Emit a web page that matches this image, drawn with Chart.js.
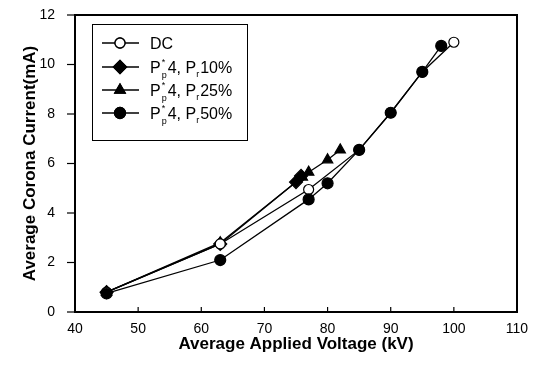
<!DOCTYPE html>
<html><head><meta charset="utf-8">
<script src="https://cdn.jsdelivr.net/npm/chart.js@4.4.0/dist/chart.umd.min.js"></script>
<style>html,body{margin:0;padding:0;background:#fff}#w{width:537px;height:367px}</style>
</head><body><div id="w"><canvas id="c"></canvas></div>
<script>
const dcV = [45, 63, 77, 85, 90, 95, 100];
const dcI = [0.8, 2.75, 4.95, 6.55, 8.05, 9.7, 10.9];
const p10V = [45, 63, 75, 75.8];
const p10I = [0.8, 2.75, 5.25, 5.5];
const p25V = [45, 63, 76, 77, 80, 82];
const p25I = [0.8, 2.8, 5.45, 5.65, 6.15, 6.55];
const p50V = [45, 63, 77, 80, 85, 90, 95, 98];
const p50I = [0.75, 2.1, 4.55, 5.2, 6.55, 8.05, 9.7, 10.75];
const xTicks = [40, 50, 60, 70, 80, 90, 100, 110];
const yTicks = [0, 2, 4, 6, 8, 10, 12];
const labels = ['DC', 'P10', 'P25', 'P50'];

const pts = (xs, ys) => xs.map((x, i) => ({x, y: ys[i]}));
const base = {borderColor:'#000', borderWidth:1.3, showLine:true, tension:0, pointBorderColor:'#000', pointBorderWidth:1.2};
const sets = [
  Object.assign({}, base, {label:labels[0], data:pts(dcV, dcI), pointStyle:'circle', pointRadius:5, pointBackgroundColor:'#fff', order:1}),
  Object.assign({}, base, {label:labels[1], data:pts(p10V, p10I), pointStyle:'rectRot', pointRadius:6.5, pointBackgroundColor:'#000', order:3}),
  Object.assign({}, base, {label:labels[2], data:pts(p25V, p25I), pointStyle:'triangle', pointRadius:6, pointBackgroundColor:'#000', order:4}),
  Object.assign({}, base, {label:labels[3], data:pts(p50V, p50I), pointStyle:'circle', pointRadius:5.5, pointBackgroundColor:'#000', order:0})
];

const FONT = '"Liberation Sans", Arial, sans-serif';

const frame = {
  id:'frame',
  afterDatasetsDraw(chart){
    const {ctx, chartArea:a, scales} = chart;
    ctx.save();
    ctx.strokeStyle = '#000';
    ctx.lineWidth = 2;
    ctx.strokeRect(a.left, a.top, a.right - a.left, a.bottom - a.top);
    ctx.lineWidth = 1.2;
    xTicks.forEach(v => {
      const x = scales.x.getPixelForValue(v);
      ctx.beginPath(); ctx.moveTo(x, a.bottom); ctx.lineTo(x, a.bottom - 5); ctx.stroke();
    });
    yTicks.forEach(v => {
      const y = scales.y.getPixelForValue(v);
      ctx.beginPath(); ctx.moveTo(a.left, y); ctx.lineTo(a.left - 8, y); ctx.stroke();
    });
    const L = 92, T = 24, R = 247, B = 140;
    ctx.fillStyle = '#fff';
    ctx.fillRect(L, T, R - L, B - T);
    ctx.lineWidth = 1;
    ctx.strokeRect(L + 0.5, T + 0.5, R - L, B - T);
    const rows = [43, 67, 90, 113];
    rows.forEach((y, i) => {
      const ds = sets[i];
      ctx.lineWidth = 1.3;
      ctx.strokeStyle = '#000';
      ctx.beginPath(); ctx.moveTo(102, y); ctx.lineTo(139, y); ctx.stroke();
      Chart.helpers.drawPoint(ctx, {pointStyle: ds.pointStyle, radius: ds.pointRadius, borderWidth: 1.2}, 120, y);
      ctx.fillStyle = ds.pointBackgroundColor;
      ctx.fill();
      ctx.stroke();
      ctx.fillStyle = '#000';
      ctx.textBaseline = 'alphabetic';
      ctx.font = '16px ' + FONT;
      const by = y + 6;
      if (i === 0) { ctx.fillText('DC', 150, by); return; }
      let x = 150;
      ctx.fillText('P', x, by); x += ctx.measureText('P').width;
      ctx.font = '9px ' + FONT;
      ctx.fillText('*', x + 1, by - 8);
      ctx.fillText('p', x + 1, by + 5);
      x += 7;
      ctx.font = '16px ' + FONT;
      const s1 = '4, P';
      ctx.fillText(s1, x, by); x += ctx.measureText(s1).width;
      ctx.font = '9px ' + FONT;
      ctx.fillText('r', x, by + 4);
      x += 4;
      ctx.font = '16px ' + FONT;
      ctx.fillText(['', '10%', '25%', '50%'][i], x, by);
    });
    ctx.restore();
  }
};

new Chart(document.getElementById('c'), {
  type:'scatter',
  data:{datasets:sets},
  options:{
    responsive:true, maintainAspectRatio:false, animation:false,
    layout:{padding:{left:20, right:20, top:15, bottom:12}},
    plugins:{legend:{display:false}, tooltip:{enabled:false}},
    scales:{
      x:{
        type:'linear', min:40, max:110,
        afterBuildTicks(s){ s.ticks = xTicks.map(v => ({value:v})); },
        afterFit(s){ s.height = 43; s.paddingLeft = 0; s.paddingRight = 0; },
        grid:{display:false, drawTicks:false},
        border:{display:false},
        ticks:{color:'#000', padding:9, font:{family:FONT, size:14}, maxRotation:0},
        title:{display:true, text:'Average Applied Voltage (kV)', color:'#000', font:{family:FONT, size:17, weight:'bold'}, padding:{top:0, bottom:0}}
      },
      y:{
        type:'linear', min:0, max:12,
        afterBuildTicks(s){ s.ticks = yTicks.map(v => ({value:v})); },
        afterFit(s){ s.width = 55; s.paddingTop = 0; s.paddingBottom = 0; },
        grid:{display:false, drawTicks:false},
        border:{display:false},
        ticks:{color:'#000', padding:20, font:{family:FONT, size:14}},
        title:{display:true, text:'Average Corona Current(mA)', color:'#000', font:{family:FONT, size:17, weight:'bold'}, padding:{top:0, bottom:0}}
      }
    }
  },
  plugins:[frame]
});
</script></body></html>
